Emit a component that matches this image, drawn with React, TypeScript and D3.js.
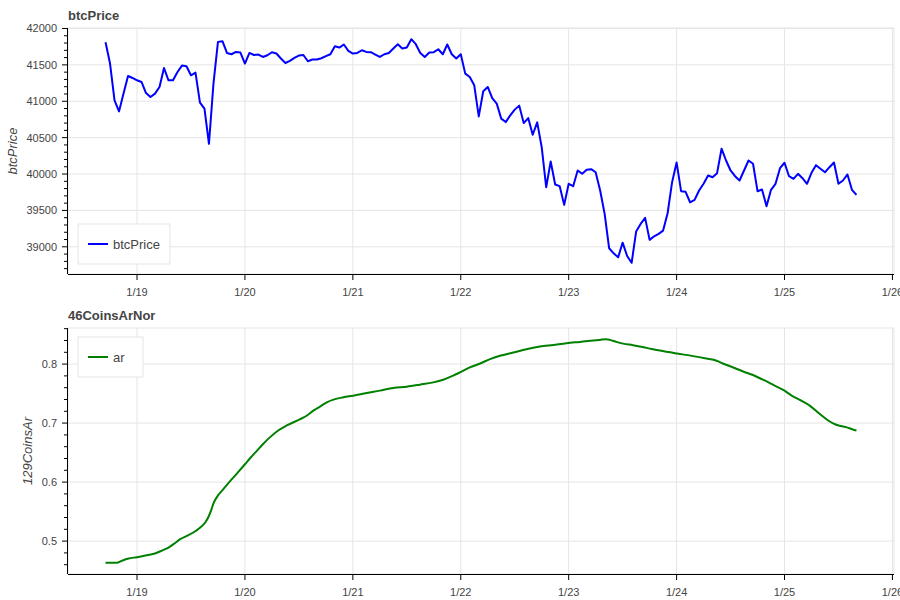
import React from 'react';
import * as d3 from 'd3';

// ---------- DATA ----------
const btcStart = new Date(2024, 0, 18, 17, 0, 0); // first hourly sample
const HOUR_MS = 3600 * 1000;

const btcPrice = [
  41811, 41518, 41013, 40861, 41105, 41347, 41320, 41288, 41265, 41113,
  41058, 41105, 41196, 41457, 41288, 41288, 41402, 41490, 41481, 41357,
  41394, 40981, 40898, 40416, 41243, 41816, 41825, 41664, 41646, 41678,
  41669, 41518, 41664, 41636, 41642, 41609, 41632, 41674, 41656, 41587,
  41526, 41554, 41595, 41628, 41636, 41550, 41573, 41573, 41591, 41619,
  41646, 41756, 41738, 41780, 41692, 41656, 41664, 41701, 41678, 41674,
  41642, 41609, 41646, 41664, 41725, 41784, 41725, 41738, 41853, 41784,
  41664, 41609, 41669, 41674, 41715, 41646, 41780, 41646, 41587, 41646,
  41380, 41334, 41219, 40792, 41137, 41196, 41044, 40967, 40761, 40714,
  40806, 40885, 40940, 40700, 40769, 40540, 40710, 40370, 39819, 40173,
  39856, 39833, 39576, 39866, 39833, 40049, 40003, 40058, 40067, 40025,
  39773, 39453, 38980, 38910, 38855, 39057, 38874, 38780, 39209, 39315,
  39397, 39095, 39144, 39177, 39223, 39461, 39888, 40159, 39764, 39755,
  39612, 39645, 39773, 39866, 39980, 39956, 40012, 40348, 40186, 40049,
  39970, 39911, 40049, 40186, 40141, 39764, 39787, 39557, 39783, 39866,
  40080, 40155, 39970, 39934, 40003, 39943, 39866, 40017, 40122, 40072,
  40025, 40094, 40159, 39866, 39911, 39994, 39783, 39714,
];

// hours after btcStart
const arHours = [
  0, 2.5, 3.6, 5.1, 7.0, 9.2, 11.0, 12.9, 14.0, 15.1, 16.6, 18.1, 19.6, 21.0,
  22.2, 22.9, 23.5, 24.0, 24.8, 26.2, 27.7, 29.2, 31.0, 32.2, 33.6, 35.1, 36.6,
  38.4, 40.3, 43.3, 44.8, 46.2, 47.7, 49.2, 50.7, 52.9, 55.1, 58.1, 61.0, 64.0,
  67.0, 69.9, 72.9, 75.1, 77.3, 78.8, 81.0, 83.3, 85.5, 87.7, 90.7, 93.6, 96.6,
  99.6, 102.5, 105.5, 108.4, 109.9, 111.4, 112.2, 113.6, 115.1, 117.3, 120.3,
  123.3, 127.1, 130.7, 133.6, 135.9, 137.3, 139.6, 141.8, 144.0, 146.2, 148.4,
  150.7, 152.5, 154.4, 156.6, 158.8, 160.7, 162.5, 164.7, 166.2, 167.0,
];
const arValues = [
  0.4632, 0.4632, 0.4666, 0.4705, 0.4728, 0.4762, 0.4789, 0.4852, 0.489,
  0.4948, 0.5032, 0.5088, 0.515, 0.5228, 0.5319, 0.5413, 0.5526, 0.5639,
  0.575, 0.588, 0.6015, 0.6145, 0.6302, 0.6408, 0.6526, 0.6651, 0.6762,
  0.6875, 0.696, 0.7067, 0.7128, 0.7212, 0.728, 0.7352, 0.7398, 0.7437,
  0.7465, 0.7511, 0.755, 0.7595, 0.7617, 0.7651, 0.769, 0.7735, 0.7803,
  0.7858, 0.7943, 0.801, 0.8084, 0.814, 0.8196, 0.8253, 0.8297, 0.8325,
  0.8354, 0.8376, 0.8398, 0.841, 0.8422, 0.841, 0.8376, 0.8347, 0.832,
  0.8275, 0.8229, 0.8179, 0.8135, 0.8094, 0.8056, 0.801, 0.7943, 0.7875,
  0.7815, 0.7735, 0.7651, 0.7562, 0.7471, 0.7393, 0.7297, 0.7157, 0.7044,
  0.6971, 0.6931, 0.6892, 0.6875,
];

const dayTickDates = [19, 20, 21, 22, 23, 24, 25, 26].map((d) => new Date(2024, 0, d));
const dayTickLabels = ['1/19', '1/20', '1/21', '1/22', '1/23', '1/24', '1/25', '1/26'];
const btcYTicks = [39000, 39500, 40000, 40500, 41000, 41500, 42000];
const arYTicks = [0.5, 0.6, 0.7, 0.8];

// ---------- LAYOUT ----------
const FONT = '"Liberation Sans", Arial, Helvetica, sans-serif';
const TEXT = '#444444';
const GRID = '#e5e5e5';
const FRAME_L = 68;
const FRAME_R = 894;

type PanelProps = {
  top: number;
  height: number;
  title: string;
  yLabel: string;
  yLabelX: number;
  times: Date[];
  values: number[];
  color: string;
  yTicks: number[];
  minorStep: number;
  fmt: (v: number) => string;
  legendLabel: string;
  legend: { x: number; y: number; w: number; h: number };
  smooth?: boolean;
};

function pad(ext: [number, number]): [number, number] {
  const s = ext[1] - ext[0];
  return [ext[0] - 0.05 * s, ext[1] + 0.05 * s];
}

function Panel(p: PanelProps) {
  const bottom = p.top + p.height;
  const tExt = d3.extent(p.times, (d) => +d) as [number, number];
  const x = d3.scaleTime().domain(pad(tExt).map((v) => new Date(v))).range([FRAME_L, FRAME_R]);
  const y = d3.scaleLinear().domain(pad(d3.extent(p.values) as [number, number])).range([bottom, p.top]);
  const [y0, y1] = y.domain();
  const minor: number[] = [];
  const startM = Math.ceil(y0 / p.minorStep - 1e-9);
  for (let k = startM; k * p.minorStep <= y1 + 1e-9; k++) {
    const v = +(k * p.minorStep).toFixed(6);
    if (!p.yTicks.some((t) => Math.abs(t - v) < p.minorStep / 10)) minor.push(v);
  }
  const line = d3
    .line<number>()
    .x((_, i) => x(p.times[i]))
    .y((v) => y(v))
    .curve(p.smooth ? d3.curveMonotoneX : d3.curveLinear);
  const cy = (p.top + bottom) / 2;
  return (
    <g>
      <text x={FRAME_L} y={p.top - 8.5} fontFamily={FONT} fontSize={13} fontWeight="bold" fill={TEXT}>
        {p.title}
      </text>
      {/* grid */}
      {dayTickDates.map((d, i) => (
        <line key={'gx' + i} x1={x(d)} x2={x(d)} y1={p.top} y2={bottom} stroke={GRID} strokeWidth={1} />
      ))}
      {p.yTicks.map((t, i) => (
        <line key={'gy' + i} x1={FRAME_L} x2={FRAME_R} y1={y(t)} y2={y(t)} stroke={GRID} strokeWidth={1} />
      ))}
      {/* outline */}
      <rect x={FRAME_L} y={p.top} width={FRAME_R - FRAME_L} height={p.height} fill="none" stroke={GRID} strokeWidth={1} />
      {/* line */}
      <path d={line(p.values) || ''} fill="none" stroke={p.color} strokeWidth={2} strokeLinejoin="round" />
      {/* legend */}
      <rect x={p.legend.x} y={p.legend.y} width={p.legend.w} height={p.legend.h} fill="#ffffff" fillOpacity={0.95} stroke={GRID} strokeWidth={1} />
      <line
        x1={p.legend.x + 10}
        x2={p.legend.x + 30}
        y1={p.legend.y + p.legend.h / 2}
        y2={p.legend.y + p.legend.h / 2}
        stroke={p.color}
        strokeWidth={2}
      />
      <text
        x={p.legend.x + 35}
        y={p.legend.y + p.legend.h / 2}
        dominantBaseline="central"
        fontFamily={FONT}
        fontSize={13}
        fill={TEXT}
      >
        {p.legendLabel}
      </text>
      {/* y axis */}
      <line x1={FRAME_L - 0.5} x2={FRAME_L - 0.5} y1={p.top} y2={bottom} stroke="#000" strokeWidth={1} />
      {p.yTicks.map((t, i) => (
        <g key={'yt' + i}>
          <line x1={FRAME_L - 6} x2={FRAME_L} y1={y(t)} y2={y(t)} stroke="#000" strokeWidth={1} />
          <text x={FRAME_L - 11} y={y(t)} dominantBaseline="central" textAnchor="end" fontFamily={FONT} fontSize={11} fill={TEXT}>
            {p.fmt(t)}
          </text>
        </g>
      ))}
      {minor.map((t, i) => (
        <line key={'ym' + i} x1={FRAME_L - 4} x2={FRAME_L} y1={y(t)} y2={y(t)} stroke="#000" strokeWidth={1} />
      ))}
      <text
        transform={`translate(${p.yLabelX},${cy}) rotate(-90)`}
        textAnchor="middle"
        fontFamily={FONT}
        fontSize={13}
        fontStyle="italic"
        fill={TEXT}
      >
        {p.yLabel}
      </text>
      {/* x axis */}
      <line x1={FRAME_L} x2={FRAME_R} y1={bottom + 0.5} y2={bottom + 0.5} stroke="#000" strokeWidth={1} />
      {dayTickDates.map((d, i) => (
        <g key={'xt' + i}>
          <line x1={x(d)} x2={x(d)} y1={bottom} y2={bottom + 6} stroke="#000" strokeWidth={1} />
          <text x={x(d)} y={bottom + 22} textAnchor="middle" fontFamily={FONT} fontSize={11} fill={TEXT}>
            {dayTickLabels[i]}
          </text>
        </g>
      ))}
    </g>
  );
}

export default function App() {
  const btcTimes = btcPrice.map((_, i) => new Date(+btcStart + i * HOUR_MS));
  const arTimes = arHours.map((h) => new Date(+btcStart + h * HOUR_MS));
  return (
    <svg width={900} height={600} style={{ position: 'absolute', left: 0, top: 0, background: '#fff' }}>
      <rect x={0} y={0} width={900} height={600} fill="#fff" />
      <Panel
        top={28}
        height={246}
        title="btcPrice"
        yLabel="btcPrice"
        yLabelX={17}
        times={btcTimes}
        values={btcPrice}
        color="#0000ff"
        yTicks={btcYTicks}
        minorStep={100}
        fmt={(v) => String(v)}
        legendLabel="btcPrice"
        legend={{ x: 78, y: 224, w: 92, h: 40 }}
      />
      <Panel
        top={328}
        height={246}
        title="46CoinsArNor"
        yLabel="129CoinsAr"
        yLabelX={31.5}
        times={arTimes}
        values={arValues}
        color="#008000"
        yTicks={arYTicks}
        minorStep={0.02}
        fmt={(v) => d3.format('.1f')(v)}
        legendLabel="ar"
        legend={{ x: 78, y: 337, w: 65, h: 40 }}
        smooth
      />
    </svg>
  );
}
